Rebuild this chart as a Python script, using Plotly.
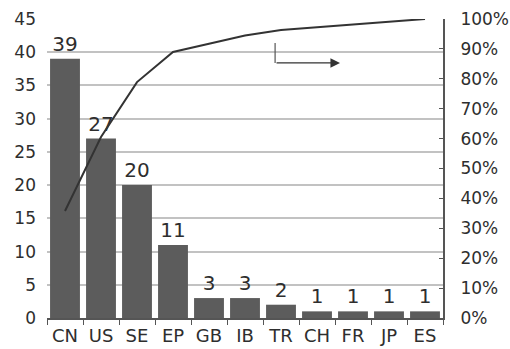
import plotly.graph_objects as go

categories = ["CN", "US", "SE", "EP", "GB", "IB", "TR", "CH", "FR", "JP", "ES"]
counts = [39, 27, 20, 11, 3, 3, 2, 1, 1, 1, 1]

total = sum(counts)
cum = []
s = 0
for c in counts:
    s += c
    cum.append(s / total * 100)

left_ticks = [0, 5, 10, 15, 20, 25, 30, 35, 40, 45]
right_ticks = [0, 10, 20, 30, 40, 50, 60, 70, 80, 90, 100]

TXT = "#2e2e2e"
FONT = "DejaVu Sans"

fig = go.Figure()
fig.add_trace(go.Bar(
    x=categories, y=counts,
    marker=dict(color="#5c5c5c", line=dict(width=0)),
    text=[str(c) for c in counts], textposition="outside",
    textfont=dict(family=FONT, size=20, color=TXT),
    cliponaxis=False,
))
fig.add_trace(go.Scatter(
    x=categories, y=cum, yaxis="y2", mode="lines",
    line=dict(color="#333333", width=2),
))

fig.update_layout(
    width=510, height=349,
    margin=dict(l=47, r=67, t=19, b=31),
    paper_bgcolor="white", plot_bgcolor="white",
    showlegend=False, bargap=0.17,
    font=dict(family=FONT, color=TXT, size=17),
    xaxis=dict(
        type="category", tickson="boundaries", ticks="outside", ticklen=5,
        tickcolor="#555555", showline=True, linecolor="#555555", linewidth=2,
        tickfont=dict(size=18, color=TXT), showgrid=False, automargin=False,
    ),
    yaxis=dict(
        range=[0, 45], tickmode="array", tickvals=left_ticks,
        showgrid=True, gridcolor="#c2c2c2", gridwidth=1.5,
        zeroline=False, showline=False, ticks="", layer="below traces",
        tickfont=dict(size=17, color=TXT), ticklabelstandoff=10, automargin=False,
    ),
    yaxis2=dict(
        range=[0, 100], tickmode="array", tickvals=right_ticks,
        ticktext=[f"{v}%" for v in right_ticks],
        overlaying="y", side="right", showgrid=False, zeroline=False,
        showline=True, linecolor="#555555", linewidth=2,
        ticks="inside", ticklen=4, tickcolor="#555555",
        tickfont=dict(size=17, color=TXT), ticklabelstandoff=12, automargin=False,
    ),
    shapes=[dict(
        type="line", xref="paper", yref="paper",
        x0=0.576, x1=0.576, y0=0.92, y1=0.853,
        line=dict(color="#555555", width=1.2),
    )],
    annotations=[dict(
        xref="paper", yref="paper", axref="pixel", ayref="pixel",
        x=0.74, y=0.853, ax=-65, ay=0, text="", showarrow=True,
        arrowhead=2, arrowsize=1.6, arrowwidth=1.2, arrowcolor="#333333",
    )],
)

fig.write_html("out.html")
